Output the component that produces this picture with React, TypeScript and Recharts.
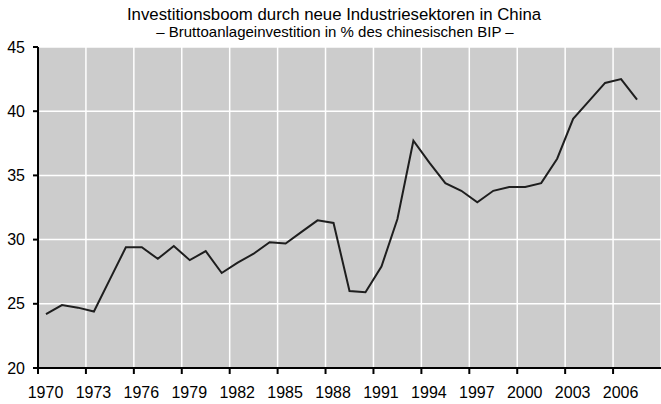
import { LineChart, Line, XAxis, YAxis, CartesianGrid } from "recharts"

const YEARS = [
  1970, 1971, 1972, 1973, 1974, 1975, 1976, 1977, 1978, 1979,
  1980, 1981, 1982, 1983, 1984, 1985, 1986, 1987, 1988, 1989,
  1990, 1991, 1992, 1993, 1994, 1995, 1996, 1997, 1998, 1999,
  2000, 2001, 2002, 2003, 2004, 2005, 2006, 2007,
]

// Bruttoanlageinvestition in % des BIP
const INVEST = [
  24.2, 24.9, 24.7, 24.4, 26.9, 29.4, 29.4, 28.5, 29.5, 28.4,
  29.1, 27.4, 28.2, 28.9, 29.8, 29.7, 30.6, 31.5, 31.3, 26.0,
  25.9, 27.9, 31.6, 37.7, 36.0, 34.4, 33.8, 32.9, 33.8, 34.1,
  34.1, 34.4, 36.3, 39.4, 40.8, 42.2, 42.5, 40.9,
]

const X_TICKS = [1970, 1973, 1976, 1979, 1982, 1985, 1988, 1991, 1994, 1997, 2000, 2003, 2006]
const Y_TICKS = [20, 25, 30, 35, 40, 45]

// points sit in the middle of each year
const data = YEARS.map((y, i) => ({ x: y + 0.5, value: INVEST[i] }))

const font = "'Liberation Sans', Arial, sans-serif"

// year labels are centred on the middle of the year, not on the tick
const YearTick = (props: any) => {
  const { x, y, payload } = props
  return (
    <text x={x + 7.5} y={y} dy="0.71em" textAnchor="middle" fontSize={16} fill="#000" fontFamily={font}>
      {payload.value}
    </text>
  )
}

export default function App() {
  return (
    <div style={{ position: "absolute", left: 0, top: 0, width: 661, height: 404, background: "#fff", fontFamily: font }}>
      <div style={{ position: "absolute", left: 0, width: 668, top: 6, textAlign: "center", fontSize: 16.8, lineHeight: "17px", color: "#000", whiteSpace: "nowrap" }}>
        Investitionsboom durch neue Industriesektoren in China
      </div>
      <div style={{ position: "absolute", left: 0, width: 670, top: 24, textAlign: "center", fontSize: 15, lineHeight: "15px", color: "#000", whiteSpace: "nowrap" }}>
        – Bruttoanlageinvestition in % des chinesischen BIP –
      </div>
      <LineChart width={661} height={404} data={data} margin={{ top: 47, right: 0, bottom: 5, left: 0 }}>
        <CartesianGrid stroke="#ffffff" strokeWidth={1.5} fill="#cccccc" fillOpacity={1} />
        <XAxis
          type="number"
          dataKey="x"
          domain={[1970, 2009]}
          ticks={X_TICKS}
          interval={0}
          height={31}
          axisLine={{ stroke: "#000", strokeWidth: 2 }}
          tickLine={{ stroke: "#000", strokeWidth: 2 }}
          tickSize={6}
          tickMargin={13}
          tick={<YearTick />}
        />
        <YAxis
          domain={[20, 45]}
          ticks={Y_TICKS}
          interval={0}
          width={38}
          axisLine={{ stroke: "#000", strokeWidth: 2 }}
          tickLine={{ stroke: "#000", strokeWidth: 2 }}
          tickSize={5}
          tickMargin={8}
          tick={{ fontSize: 16, fill: "#000", fontFamily: font }}
        />
        <Line
          type="linear"
          dataKey="value"
          stroke="#1e1e1e"
          strokeWidth={2}
          dot={false}
          isAnimationActive={false}
        />
      </LineChart>
    </div>
  )
}
